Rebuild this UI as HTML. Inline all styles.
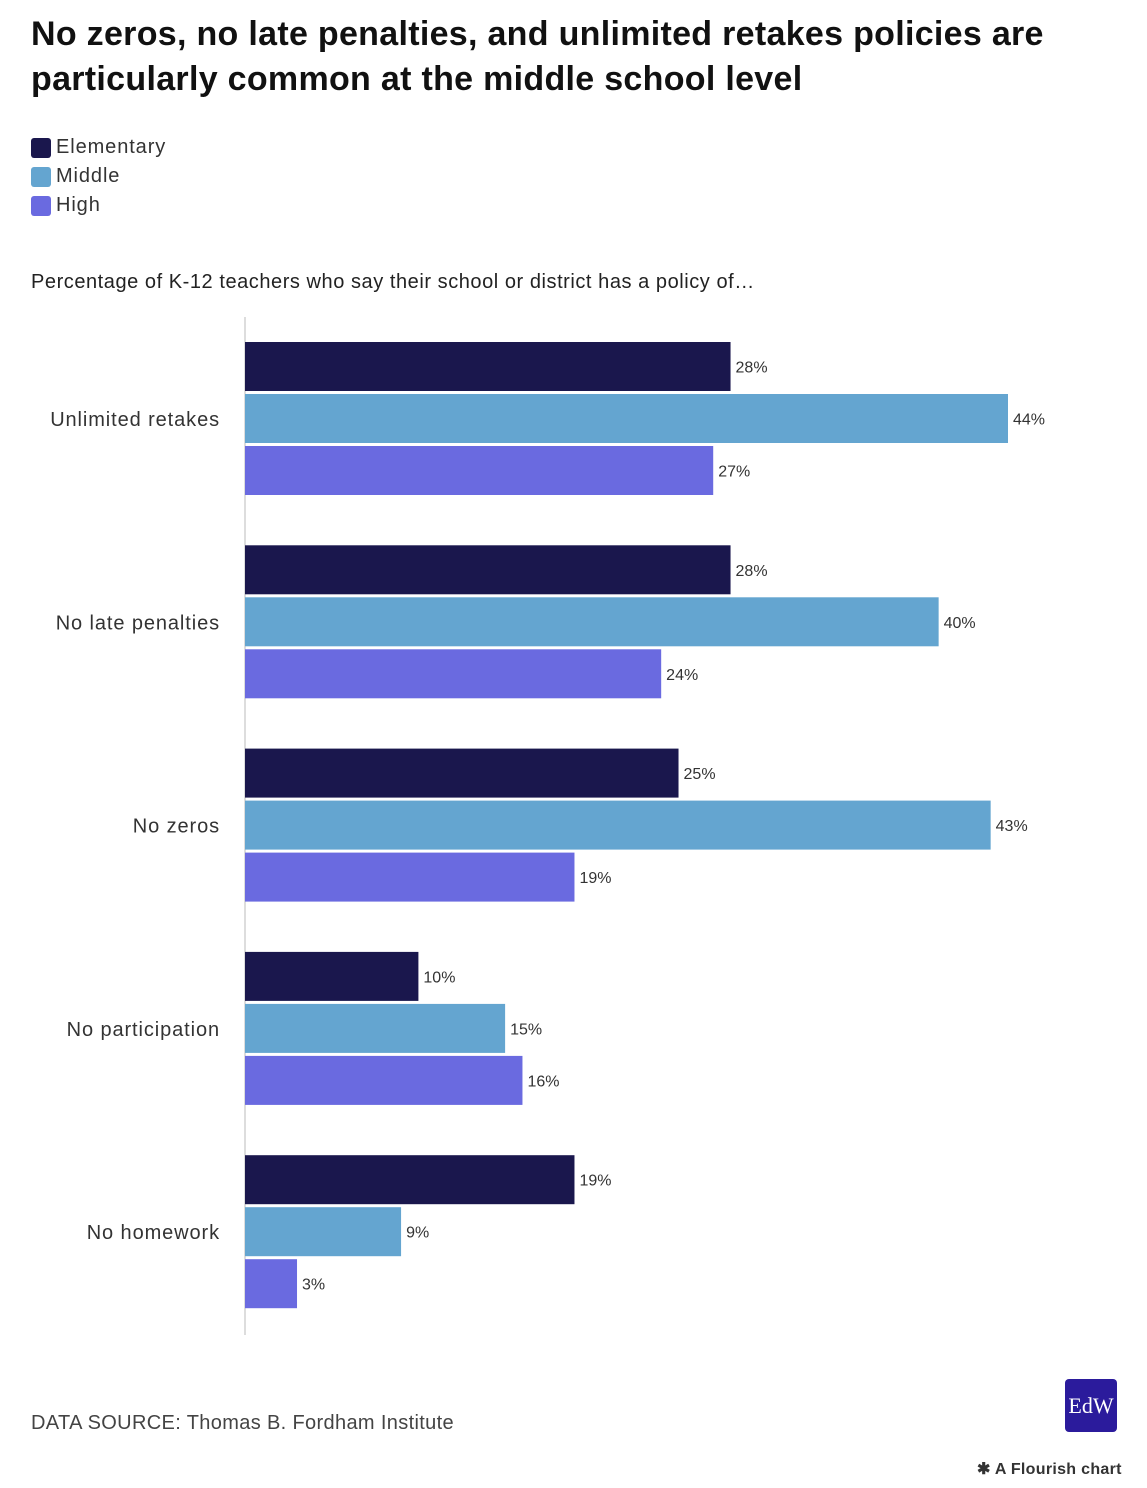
<!DOCTYPE html>
<html><head><meta charset="utf-8"><style>
body{margin:0;width:1147px;height:1488px;background:#fff;font-family:"Liberation Sans",sans-serif;position:relative;overflow:hidden;color:#222}
.abs{position:absolute}
h1{position:absolute;left:31px;top:12px;margin:0;font-size:34px;line-height:45px;font-weight:bold;color:#111;width:1100px;letter-spacing:0.3px}
.leg{position:absolute;left:31px;font-size:20px;color:#333;display:flex;align-items:center;letter-spacing:0.9px}
.sw{width:20px;height:20px;border-radius:3px;margin-right:5px}
</style></head><body>
<h1>No zeros, no late penalties, and unlimited retakes policies are particularly common at the middle school level</h1>
<div class="leg" style="top:136px"><div class="sw" style="background:#1a174d"></div>Elementary</div>
<div class="leg" style="top:165px"><div class="sw" style="background:#64a5d0"></div>Middle</div>
<div class="leg" style="top:194px"><div class="sw" style="background:#6a6ae0"></div>High</div>
<div class="abs" style="left:31px;top:271px;font-size:20px;color:#222;letter-spacing:0.55px">Percentage of K-12 teachers who say their school or district has a policy of…</div>
<svg class="abs" style="left:0;top:0" width="1147" height="1488">
<line x1="245" y1="317" x2="245" y2="1335" stroke="#ddd" stroke-width="2"/>
<g id="bars"></g>
</svg>
<div class="abs" style="left:31px;top:1412px;font-size:20px;color:#444;letter-spacing:0.35px">DATA SOURCE: Thomas B. Fordham Institute</div>
<div class="abs" style="left:1065px;top:1379px;width:52px;height:53px;background:#2b1b9c;border-radius:4px;color:#fff;font-family:'Liberation Serif',serif;font-size:22px;line-height:53px;text-align:center">EdW</div>
<div class="abs" style="left:977px;top:1459px;font-size:16px;font-weight:bold;color:#333;letter-spacing:0.3px">✱ A Flourish chart</div>
<script>
const categories=["Unlimited retakes","No late penalties","No zeros","No participation","No homework"];
const elementary=[28,28,25,10,19];
const middle=[44,40,43,15,9];
const high=[27,24,19,16,3];
const seriesNames=["elementary","middle","high"];
const colors=["#1a174d","#64a5d0","#6a6ae0"];
const x0=245, pxPer=(1008-245)/44, groupTop=342, groupPitch=203.3, barH=49, barGap=3;
const xs=v=>x0+v*pxPer;
const g=document.getElementById('bars');
const NS='http://www.w3.org/2000/svg';
const all=[elementary,middle,high];
categories.forEach((c,i)=>{
  const top=groupTop+i*groupPitch;
  const lab=document.createElementNS(NS,'text');
  
  
  lab.setAttribute('x',220);lab.setAttribute('y',top+77+7);
  lab.setAttribute('text-anchor','end');lab.setAttribute('font-size','20');lab.setAttribute('fill','#333');
  lab.setAttribute('letter-spacing','0.9');
  lab.textContent=c;g.appendChild(lab);
  all.forEach((s,j)=>{
    const y=top+j*(barH+barGap);
    const r=document.createElementNS(NS,'rect');
    
    
    r.setAttribute('x',x0);r.setAttribute('y',y);
    r.setAttribute('width',xs(s[i])-x0);r.setAttribute('height',barH);
    r.setAttribute('fill',colors[j]);g.appendChild(r);
    const t=document.createElementNS(NS,'text');
    
    
    t.setAttribute('x',xs(s[i])+5);t.setAttribute('y',y+barH/2+6);
    t.setAttribute('font-size','16');t.setAttribute('fill','#333');
    t.textContent=s[i]+'%';g.appendChild(t);
  });
});
</script>
</body></html>
